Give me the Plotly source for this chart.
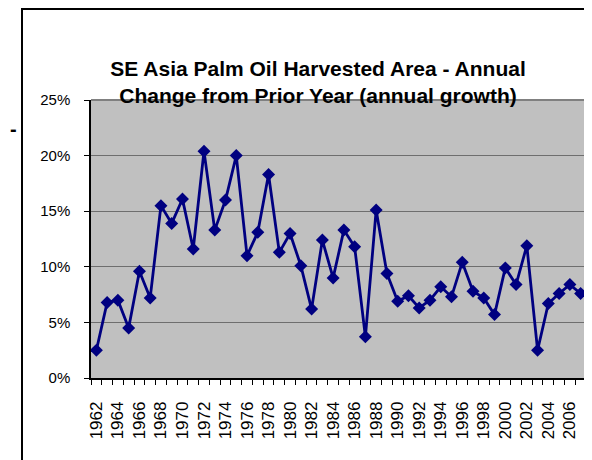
import plotly.graph_objects as go

years = list(range(1962, 2008))
growth_pct = [2.5, 6.8, 7.0, 4.5, 9.6, 7.2, 15.5, 13.9, 16.1, 11.6,
              20.4, 13.3, 16.0, 20.0, 11.0, 13.1, 18.3, 11.3, 13.0, 10.1,
              6.2, 12.4, 9.0, 13.3, 11.8, 3.7, 15.1, 9.4, 6.9, 7.4,
              6.3, 7.0, 8.2, 7.3, 10.4, 7.8, 7.2, 5.7, 9.9, 8.4,
              11.9, 2.5, 6.7, 7.6, 8.4, 7.6]
growth = [v / 100 for v in growth_pct]
label_years = years[::2]
y_ticks = [0, 0.05, 0.10, 0.15, 0.20, 0.25]

title_text = "SE Asia Palm Oil Harvested Area - Annual<br>Change from Prior Year (annual growth)"

# page has an 8px body margin; work in figure coordinates
OFF = 8
W, H = 592 - OFF, 460 - OFF
L, R, T, B = 91 - OFF, 586 - OFF, 100 - OFF, 378 - OFF


def px(x):
    return (x - OFF - L) / (R - L)


def py(y):
    return (B - (y - OFF)) / (B - T)


fig = go.Figure()
fig.add_trace(go.Scatter(
    x=years, y=growth, mode="lines+markers",
    line=dict(color="#000080", width=2.8),
    marker=dict(symbol="diamond", size=10, color="#000080"),
    showlegend=False,
))

font_family = "Liberation Sans, Arial, sans-serif"

fig.update_layout(
    width=W, height=H,
    margin=dict(l=L, r=W - R, t=T, b=H - B),
    paper_bgcolor="white",
    plot_bgcolor="#C0C0C0",
    font=dict(family=font_family, color="black"),
    title=dict(text="<b>" + title_text + "</b>",
               x=px(318), xanchor="center", xref="paper",
               y=1 - (76 - OFF) / H, yanchor="top",
               font=dict(size=21, family=font_family, color="black")),
    xaxis=dict(
        range=[1961.5, 2007.5],
        tickmode="array", tickvals=label_years,
        ticktext=[str(y) for y in label_years],
        tickangle=-90, ticks="", ticklen=0,
        ticklabelstandoff=15,
        tickfont=dict(size=17, family=font_family),
        showgrid=False, zeroline=False,
        showline=True, linecolor="black", linewidth=1.5,
        minor=dict(ticks="outside", tickmode="linear", tick0=1961.5, dtick=1,
                   ticklen=5, tickcolor="black", tickwidth=1, showgrid=False),
    ),
    yaxis=dict(
        range=[0, 0.25], tickvals=y_ticks, tickformat=".0%",
        ticks="outside", ticklen=5, tickcolor="black", tickwidth=1,
        ticklabelstandoff=11,
        tickfont=dict(size=15, family=font_family),
        showgrid=True, gridcolor="#6E6E6E", gridwidth=1,
        zeroline=False,
        showline=True, linecolor="black", linewidth=1.5,
    ),
    shapes=[
        dict(type="line", xref="paper", yref="paper", x0=0, x1=1, y0=1, y1=1,
             line=dict(color="#808080", width=2)),
        dict(type="line", xref="paper", yref="paper", x0=1, x1=1, y0=0, y1=1,
             line=dict(color="#808080", width=2)),
        dict(type="line", xref="paper", yref="paper", x0=px(22), x1=px(22),
             y0=py(8), y1=py(470), line=dict(color="black", width=2)),
        dict(type="line", xref="paper", yref="paper", x0=px(22), x1=px(600),
             y0=py(9), y1=py(9), line=dict(color="black", width=2)),
    ],
    annotations=[
        dict(text="<b>-</b>", xref="paper", yref="paper", x=px(13), y=py(129),
             xanchor="center", yanchor="middle", showarrow=False,
             font=dict(size=20, family=font_family, color="black")),
    ],
)

fig.write_html("out.html")
